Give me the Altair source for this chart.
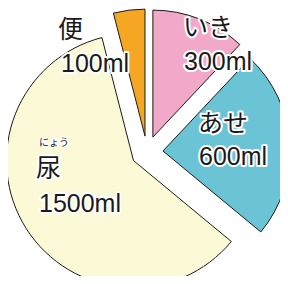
import math
import altair as alt
import pandas as pd

# ---- data ----
categories = ["いき", "あせ", "尿", "便"]
values = [300, 600, 1500, 100]
amount_labels = ["300ml", "600ml", "1500ml", "100ml"]
colors = ["#F2A9C9", "#6BC4D6", "#FCF9D6", "#F5A623"]
ruby_text = "にょう"

# ---- layout / style ----
W, H = 272, 268
CX, CY = 139, 144          # pie centre in plot pixels
EXPLODE = 16               # slice offset along its mid angle
R = 127                    # outer radius
name_pos = {"いき": (175, 20), "あせ": (190, 116), "尿": (28, 161), "便": (50, 22)}
amount_pos = {"いき": (176, 54), "あせ": (191, 149), "尿": (31, 196), "便": (53, 56)}
ruby_pos = (31, 135)

total = sum(values)
df = pd.DataFrame({"category": categories, "value": values, "idx": list(range(len(values)))})

pie = (
    alt.Chart(df)
    .transform_window(cum="sum(value)", sort=[alt.SortField("idx")], frame=[None, 0])
    .transform_calculate(
        cum0="datum.cum - datum.value",
        mid=f"(datum.cum - datum.value/2)/{total}*2*PI",
    )
    .transform_calculate(
        px=f"{CX} + {EXPLODE}*sin(datum.mid)",
        py=f"{CY} - {EXPLODE}*cos(datum.mid)",
    )
    .mark_arc(outerRadius=R, stroke="#1a1a1a", strokeWidth=1)
    .encode(
        theta=alt.Theta("cum0:Q", scale=alt.Scale(domain=[0, total], range=[0, 2 * math.pi])),
        theta2="cum:Q",
        x=alt.X("px:Q", scale=None, axis=None),
        y=alt.Y("py:Q", scale=None, axis=None),
        color=alt.Color("category:N", scale=alt.Scale(domain=categories, range=colors), legend=None),
    )
)

lab = pd.DataFrame({
    "category": categories,
    "amount": amount_labels,
    "nx": [name_pos[c][0] for c in categories],
    "ny": [name_pos[c][1] for c in categories],
    "ax": [amount_pos[c][0] for c in categories],
    "ay": [amount_pos[c][1] for c in categories],
})
ruby_df = pd.DataFrame({"t": [ruby_text], "x": [ruby_pos[0]], "y": [ruby_pos[1]]})

def text_layers(data, xf, yf, tf, font, size, halo_w=4):
    common = dict(align="left", baseline="middle", font=font, fontSize=size)
    halo = alt.Chart(data).mark_text(
        color="white", stroke="white", strokeWidth=halo_w, strokeJoin="round", **common
    ).encode(x=alt.X(f"{xf}:Q", scale=None, axis=None), y=alt.Y(f"{yf}:Q", scale=None, axis=None), text=f"{tf}:N")
    fg = alt.Chart(data).mark_text(color="#1a1a1a", **common).encode(
        x=alt.X(f"{xf}:Q", scale=None, axis=None), y=alt.Y(f"{yf}:Q", scale=None, axis=None), text=f"{tf}:N"
    )
    return [halo, fg]

layers = [pie]
layers += text_layers(lab, "nx", "ny", "category", "Noto Sans CJK JP", 25)
layers += text_layers(lab, "ax", "ay", "amount", "Liberation Sans", 25)
layers += text_layers(ruby_df, "x", "y", "t", "Noto Sans CJK JP", 10, halo_w=3)

chart = (
    alt.layer(*layers)
    .properties(width=W, height=H, autosize="none", padding=0)
    .configure_view(stroke=None)
)

chart.save("out.html", embed_options={"renderer": "svg", "actions": False})
